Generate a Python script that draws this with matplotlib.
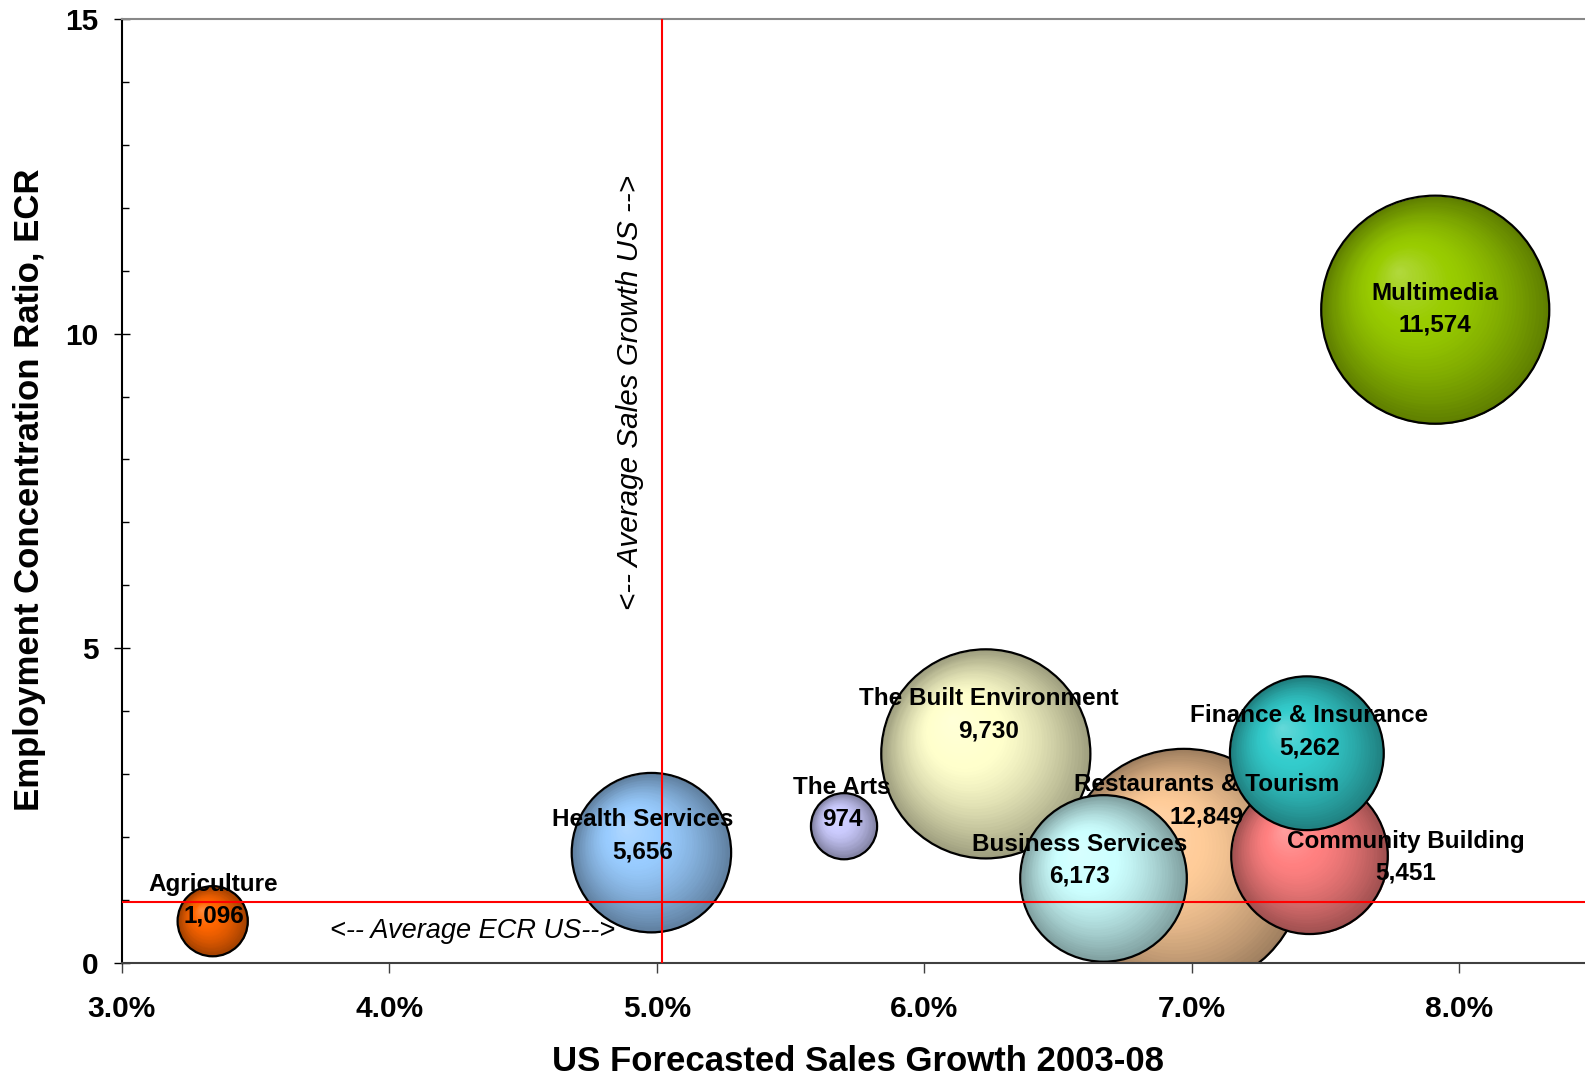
import numpy as np
import matplotlib.pyplot as plt
import matplotlib.transforms as mtransforms
from matplotlib.colors import to_rgb
from matplotlib.ticker import MultipleLocator

plt.rcParams['font.family'] = ['Liberation Sans', 'DejaVu Sans']

# ---- data ----
industries = ['Agriculture', 'Health Services', 'The Arts', 'The Built Environment',
              'Business Services', 'Restaurants & Tourism', 'Finance & Insurance',
              'Community Building', 'Multimedia']
sales_growth = [3.34, 4.98, 5.70, 6.23, 6.67, 6.97, 7.43, 7.44, 7.91]   # %
ecr = [0.66, 1.75, 2.17, 3.32, 1.34, 1.49, 3.33, 1.70, 10.38]
employment = [1096, 5656, 974, 9730, 6173, 12849, 5262, 5451, 11574]

avg_sales_growth = 5.02
avg_ecr = 0.97

x_ticks = [3.0, 4.0, 5.0, 6.0, 7.0, 8.0]
x_tick_labels = ['3.0%', '4.0%', '5.0%', '6.0%', '7.0%', '8.0%']
y_ticks = [0, 5, 10, 15]
y_tick_labels = ['0', '5', '10', '15']

# ---- styling ----
bubble_colors = ['#ff6600', '#99ccff', '#ccccff', '#ffffcc', '#ccffff',
                 '#ffcc99', '#33cccc', '#ff8080', '#99cc00']
# label nudges (points) for the name line; the number sits one line below
label_dx = [0.7, -6.5, -1.4, 2.2, -17, 16.6, 1.8, 69, 0]
label_dy = [26.6, 23.8, 28.1, 39.6, 24.5, 60.5, 27.0, 10.3, 12.0]
SIZE_SCALE = 2.33   # scatter area (pt^2) per employee


def shade(color, f):
    """colour of the sphere at relative radius f (0 = highlight, 1 = rim)"""
    c = np.array(to_rgb(color))
    light = c + (1 - c) * 0.25
    dark = c * 0.62
    if f < 0.35:
        return tuple(light + (c - light) * f / 0.35)
    return tuple(c + (dark - c) * ((f - 0.35) / 0.65) ** 1.4)


fig = plt.figure(figsize=(15.85, 10.81), dpi=100)
ax = fig.add_axes([0.0768, 0.1094, 0.9283, 0.8730])
ax.set_xlim(3.0, 8.5)
ax.set_ylim(0, 15)

# bubbles, biggest first so small ones sit on top (like Excel)
order = np.argsort(employment)[::-1]
for i in order:
    s = employment[i] * SIZE_SCALE
    r = np.sqrt(s) / 2
    hx, hy = -0.33 * r, 0.34 * r
    for f in np.linspace(1, 0.03, 45):
        tr = mtransforms.offset_copy(ax.transData, fig=fig, x=hx * (1 - f),
                                     y=hy * (1 - f), units='points')
        ax.scatter(sales_growth[i], ecr[i], s=s * f * f, color=shade(bubble_colors[i], f),
                   transform=tr, linewidths=0, zorder=2)
    ax.scatter(sales_growth[i], ecr[i], s=s, facecolors='none', edgecolors='black',
               linewidths=1.6, zorder=2)

# average lines
ax.axvline(avg_sales_growth, color='red', lw=1.5, zorder=3)
ax.axhline(avg_ecr, color='red', lw=1.5, zorder=3)
ax.text(4.31, 0.50, '<-- Average ECR US-->', fontsize=19.5, style='italic',
        ha='center', va='center', zorder=4)
ax.text(4.90, 9.07, '<-- Average Sales Growth US -->', fontsize=21.3, style='italic',
        rotation=90, ha='center', va='center', zorder=4)

# data labels
for i, name in enumerate(industries):
    ax.annotate(name, (sales_growth[i], ecr[i]), xytext=(label_dx[i], label_dy[i]),
                textcoords='offset points', ha='center', va='center',
                fontsize=17.5, fontweight='bold', zorder=5)
    ax.annotate(f'{employment[i]:,}', (sales_growth[i], ecr[i]),
                xytext=(label_dx[i], label_dy[i] - 23), textcoords='offset points',
                ha='center', va='center', fontsize=17.5, fontweight='bold', zorder=5)

# axes
ax.spines['right'].set_visible(False)
ax.spines['top'].set_color('#888888')
ax.spines['bottom'].set_color('#404040')
ax.spines['left'].set_color('black')
for sp in ax.spines.values():
    sp.set_linewidth(1.5)

ax.set_xticks(x_ticks, labels=x_tick_labels, fontweight='bold')
ax.set_yticks(y_ticks, labels=y_tick_labels, fontweight='bold')
ax.yaxis.set_minor_locator(MultipleLocator(1))
ax.tick_params(axis='y', which='major', direction='inout', length=12, width=1,
               pad=10.6, labelsize=21.5)
ax.tick_params(axis='y', which='minor', direction='in', length=5, width=1)
ax.tick_params(axis='x', which='major', direction='out', length=7.2, width=1,
               pad=16, labelsize=21.5, color='#404040')

fig.text(0.0189, 0.5467, 'Employment Concentration Ratio, ECR', rotation=90,
         fontsize=25, fontweight='bold', ha='center', va='center')
fig.text(0.5411, 0.018, 'US Forecasted Sales Growth 2003-08',
         fontsize=25, fontweight='bold', ha='center', va='center')

fig.savefig('out.png', dpi=100)
